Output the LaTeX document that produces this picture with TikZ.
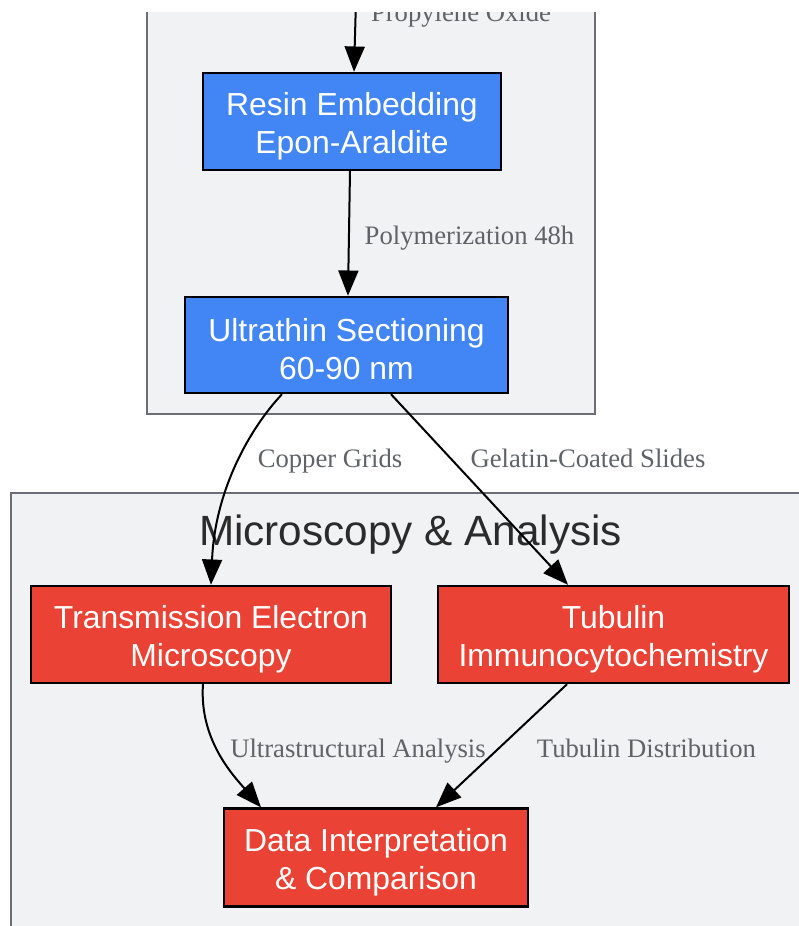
\documentclass[tikz,border=0pt]{standalone}
\usepackage{fontspec}
\setmainfont{Liberation Serif}
\newfontfamily\nodesans{Liberation Sans}
\usetikzlibrary{arrows.meta}
\definecolor{blueF}{HTML}{4285F4}
\definecolor{redF}{HTML}{EA4335}
\definecolor{clusterF}{HTML}{F1F2F4}
\definecolor{clusterD}{HTML}{6B6E75}
\definecolor{labelC}{HTML}{5F6368}
\definecolor{titleC}{HTML}{2B2B2B}
\newcommand{\toplift}{\rule{0pt}{24pt}}
\tikzset{
  procbox/.style={draw=black, line width=1.8pt, inner sep=0pt, align=center,
    text=white, font=\nodesans\fontsize{23.9}{28.5}\selectfont},
  bluebox/.style={procbox, fill=blueF},
  redbox/.style={procbox, fill=redF},
  elabel/.style={text=labelC, font=\fontsize{20}{24}\selectfont, anchor=base, inner sep=0pt},
  arr/.style={line width=1.5pt, -{Triangle[length=19pt,width=15pt]}},
  clusterbox/.style={fill=clusterF, draw=clusterD, line width=1.5pt}
}
\begin{document}
\begin{tikzpicture}[x=0.75pt,y=-0.75pt]
\useasboundingbox[fill=white] (0,0) rectangle (799,926);
\clip (0,12) rectangle (799,926);
% clusters
\draw[clusterbox] (147,-20) rectangle (595,414);
\draw[clusterbox] (11,493) rectangle (830,960);
\node[text=titleC, font=\nodesans\fontsize{31.7}{36}\selectfont, anchor=base, inner sep=0pt] (title) at (410.5,545) {Microscopy \& Analysis};
% nodes
\node[bluebox, minimum width=298*0.75pt, minimum height=97*0.75pt] (resin) at (352,121.5) {\toplift Resin Embedding\\Epon-Araldite};
\node[bluebox, minimum width=323*0.75pt, minimum height=96*0.75pt] (ultra) at (346.5,345) {\toplift Ultrathin Sectioning\\60-90 nm};
\node[redbox, minimum width=360*0.75pt, minimum height=97*0.75pt] (tem) at (211,634.5) {\toplift Transmission Electron\\Microscopy};
\node[redbox, minimum width=351*0.75pt, minimum height=97*0.75pt] (tub) at (613.5,634.5) {\toplift Tubulin\\Immunocytochemistry};
\node[redbox, minimum width=304*0.75pt, minimum height=98*0.75pt] (data) at (376,857.5) {\toplift Data Interpretation\\\& Comparison};
% incoming edge from above
\coordinate (top) at (356,0);
\draw[arr] (top) -- ([xshift=1.5pt]resin.north);
\node[elabel] (lprop) at (461,21) {Propylene Oxide};
% edges
\draw[arr] ([xshift=-1.5pt]resin.south) -- ([xshift=1.1pt]ultra.north);
\node[elabel] (lpoly) at (469.5,244) {Polymerization 48h};
\draw[arr] ([xshift=-64.5*0.75pt]ultra.south) .. controls +(-32,34) and +(4,-95) .. (tem.north);
\node[elabel] (lcop) at (330,467) {Copper Grids};
\draw[arr] ([xshift=44.5*0.75pt]ultra.south) -- ([xshift=-45.5*0.75pt]tub.north);
\node[elabel] (lgel) at (588,467) {Gelatin-Coated Slides};
\draw[arr] ([xshift=-8*0.75pt]tem.south) .. controls +(-4,55) and +(-28,-32) .. ([xshift=-115*0.75pt]data.north);
\node[elabel] (lult) at (358,757) {Ultrastructural Analysis};
\draw[arr] ([xshift=-46.5*0.75pt]tub.south) -- ([xshift=60*0.75pt]data.north);
\node[elabel] (ltub) at (646.5,757) {Tubulin Distribution};
\end{tikzpicture}
\end{document}
